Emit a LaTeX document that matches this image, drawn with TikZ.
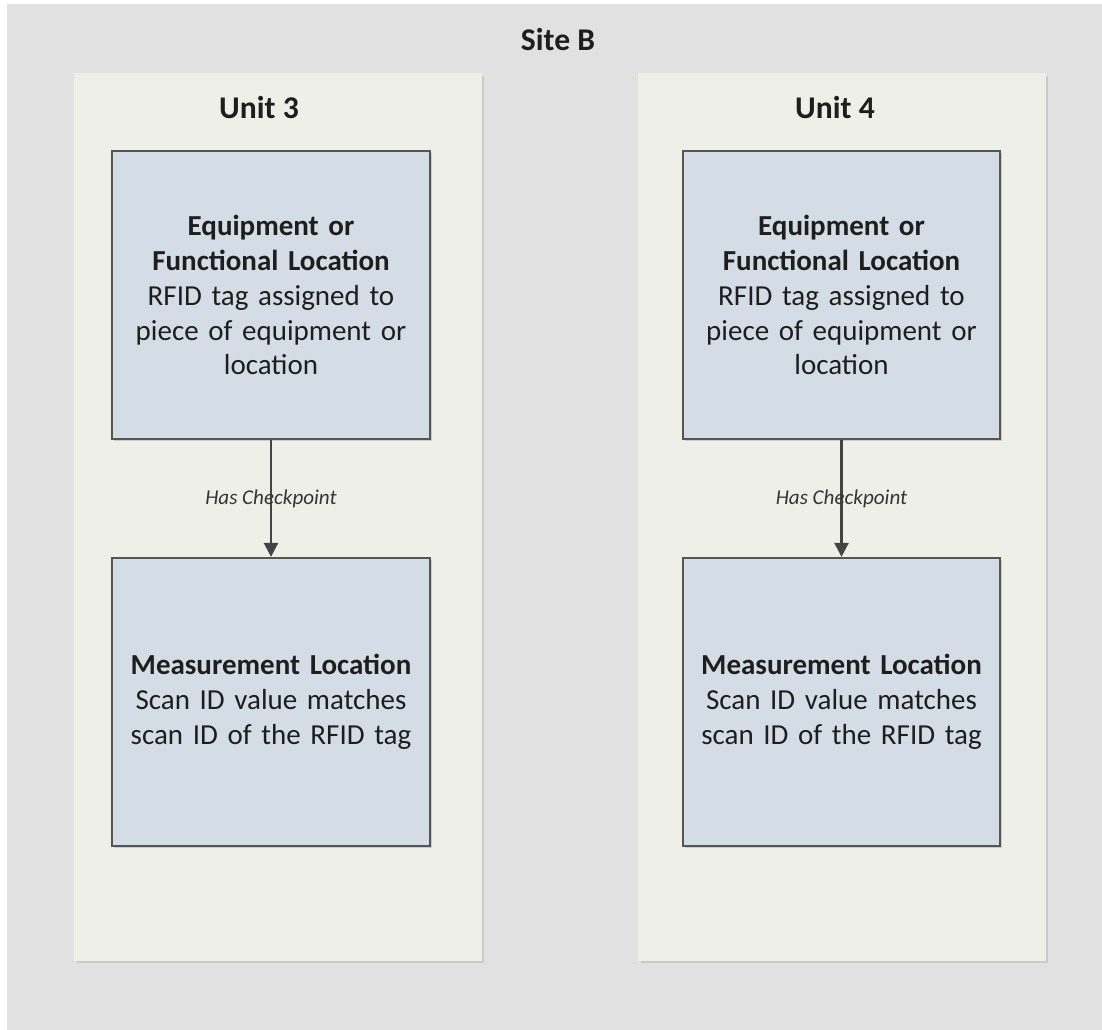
\documentclass[tikz,border=0pt]{standalone}
\usepackage{fontspec}
\setmainfont{Carlito}
\usetikzlibrary{arrows.meta, positioning, shadows}
\definecolor{bgc}{RGB}{225,225,225}
\definecolor{unitc}{RGB}{238,240,232}
\definecolor{boxc}{RGB}{212,221,230}
\definecolor{edgec}{RGB}{85,85,85}
\definecolor{txtc}{RGB}{30,30,30}
\tikzset{
  % painel de unidade
  unit/.style={rectangle, fill=unitc, draw=none, minimum width=8.16cm, minimum height=17.76cm,
               drop shadow={shadow xshift=0.05cm, shadow yshift=-0.05cm, opacity=0.10, fill=black}},
  % caixa de objeto
  obj/.style={rectangle, draw=edgec, line width=1.3pt, fill=boxc, text=txtc,
              minimum width=6.36cm, minimum height=5.76cm, text width=6cm, align=center,
              font=\fontsize{16.5}{19.9}\selectfont,
              drop shadow={shadow xshift=0.04cm, shadow yshift=-0.04cm, opacity=0.15, fill=black}},
  ttl/.style={font=\fontsize{18}{21}\selectfont\bfseries, text=txtc},
  ar/.style={-{Triangle[length=0.28cm, width=0.28cm]}, line width=1.4pt, draw=edgec!80!black},
  lbl/.style={font=\fontsize{12}{14}\selectfont\itshape, text=txtc!90}
}
\begin{document}
\begin{tikzpicture}[x=0.02cm, y=-0.02cm]
  % --- fundo ---
  \fill[white] (0,0) rectangle (1102,1030);
  \fill[bgc] (7,4) rectangle (1102,1030);
  \useasboundingbox (0,0) rectangle (1102,1030);
  \node[ttl] (site) at (558,40) {Site B};

  % --- unidades ---
  \node[unit] (u3) at (278,517) {};
  \node[unit] (u4) at (842,517) {};
  \node[ttl] (u3t) at (259,108) {Unit 3};
  \node[ttl] (u4t) at (835,108) {Unit 4};

  % --- Unit 3 ---
  \node[obj] (eq3) at (271,295)
    {\textbf{Equipment or\\Functional Location}\\RFID tag assigned to\\piece of equipment or\\location};
  \node[obj] (ml3) at (271,702)
    {\textbf{Measurement Location}\\Scan ID value matches\\scan ID of the RFID tag};
  \draw[ar] (eq3) -- node[lbl]{Has Checkpoint} (ml3);

  % --- Unit 4 ---
  \node[obj, minimum width=6.34cm] (eq4) at (841.5,295)
    {\textbf{Equipment or\\Functional Location}\\RFID tag assigned to\\piece of equipment or\\location};
  \node[obj, minimum width=6.34cm] (ml4) at (841.5,702)
    {\textbf{Measurement Location}\\Scan ID value matches\\scan ID of the RFID tag};
  \draw[ar] (eq4) -- node[lbl]{Has Checkpoint} (ml4);
\end{tikzpicture}
\end{document}
